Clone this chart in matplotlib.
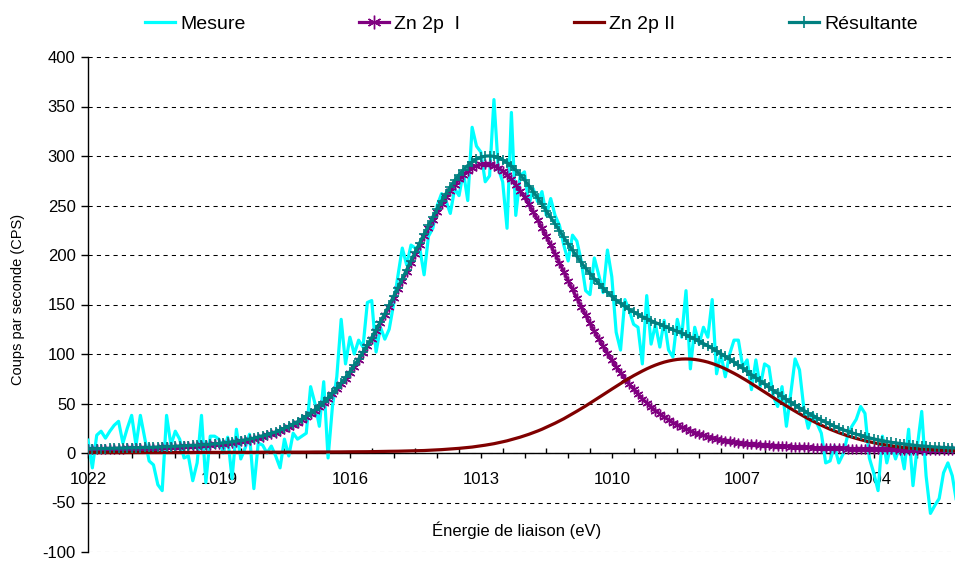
import matplotlib
matplotlib.use('Agg')
import matplotlib.pyplot as plt
from matplotlib.ticker import FixedLocator
import numpy as np

plt.rcParams['font.family'] = ['Liberation Sans', 'DejaVu Sans']
plt.rcParams['axes.unicode_minus'] = False

# energy axis, 0.1 eV steps from 1022 down to 1002
energie = np.round(np.linspace(1022, 1002, 201), 1)

mesure = [13, -15, 18, 22, 15, 22, 28, 32, 10, 25,
          38, 8, 38, 15, -8, -12, -32, -38, 38, 8,
          22, 14, -5, -3, -28, -10, 38, -30, 17, 17,
          14, 0, 16, -26, 24, -6, 5, 19, -36, 10,
          8, 0, 7, -3, -15, 14, -3, 20, 14, 17,
          20, 67, 50, 27, 72, -5, 47, 77, 135, 90,
          117, 100, 114, 107, 152, 154, 102, 127, 115, 125,
          150, 179, 207, 190, 210, 207, 207, 180, 219, 227,
          250, 262, 255, 242, 267, 260, 284, 255, 329, 310,
          304, 274, 280, 357, 287, 274, 227, 344, 240, 280,
          284, 250, 267, 254, 264, 240, 257, 240, 230, 210,
          194, 220, 214, 194, 164, 160, 197, 180, 162, 205,
          178, 122, 104, 155, 144, 130, 127, 90, 159, 110,
          130, 107, 134, 104, 97, 135, 117, 164, 85, 127,
          110, 127, 117, 155, 80, 100, 77, 100, 114, 114,
          87, 94, 64, 94, 67, 90, 87, 57, 47, 67,
          27, 60, 95, 84, 45, 25, 40, 30, 20, -10,
          -8, 7, -10, -1, 17, 27, 34, 47, 40, -5,
          -20, -38, 17, -10, 9, -6, 7, -16, 24, -33,
          7, 42, -23, -61, -53, -46, -20, -10, -23, -50,
          -30]

zn_i = [3.8, 3.9, 3.9, 4.0, 4.1, 4.2, 4.3, 4.4, 4.5, 4.6,
        4.7, 4.8, 4.9, 5.1, 5.2, 5.3, 5.5, 5.6, 5.8, 6.0,
        6.2, 6.4, 6.6, 6.8, 7.1, 7.3, 7.6, 7.9, 8.3, 8.6,
        9.1, 9.5, 10.0, 10.6, 11.2, 11.9, 12.6, 13.4, 14.3, 15.4,
        16.5, 17.7, 19.1, 20.6, 22.3, 24.2, 26.2, 28.4, 30.8, 33.5,
        36.4, 39.5, 42.9, 46.6, 50.6, 54.8, 59.4, 64.3, 69.5, 75.1,
        81.0, 87.2, 93.7, 100.6, 107.7, 115.2, 123.0, 131.0, 139.2, 147.7,
        156.4, 165.2, 174.1, 183.1, 192.1, 201.1, 210.0, 218.7, 227.3, 235.6,
        243.6, 251.2, 258.3, 264.9, 271.0, 276.3, 281.0, 284.9, 288.0, 290.2,
        291.5, 292.0, 291.5, 290.2, 288.0, 284.9, 281.0, 276.3, 271.0, 264.9,
        258.3, 251.2, 243.6, 235.6, 227.3, 218.7, 210.0, 201.1, 192.1, 183.1,
        174.1, 165.2, 156.4, 147.7, 139.2, 131.0, 123.0, 115.2, 107.7, 100.6,
        93.7, 87.2, 81.0, 75.1, 69.5, 64.3, 59.4, 54.8, 50.6, 46.6,
        42.9, 39.5, 36.4, 33.5, 30.8, 28.4, 26.2, 24.2, 22.3, 20.6,
        19.1, 17.7, 16.5, 15.4, 14.3, 13.4, 12.6, 11.9, 11.2, 10.6,
        10.0, 9.5, 9.1, 8.6, 8.3, 7.9, 7.6, 7.3, 7.1, 6.8,
        6.6, 6.4, 6.2, 6.0, 5.8, 5.6, 5.5, 5.3, 5.2, 5.1,
        4.9, 4.8, 4.7, 4.6, 4.5, 4.4, 4.3, 4.2, 4.1, 4.0,
        3.9, 3.9, 3.8, 3.7, 3.6, 3.6, 3.5, 3.4, 3.4, 3.3,
        3.2, 3.2, 3.1, 3.0, 3.0, 2.9, 2.9, 2.8, 2.8, 2.7,
        2.7]

zn_ii = [0.4, 0.4, 0.4, 0.4, 0.4, 0.4, 0.4, 0.4, 0.4, 0.5,
         0.5, 0.5, 0.5, 0.5, 0.5, 0.5, 0.5, 0.5, 0.5, 0.5,
         0.5, 0.5, 0.5, 0.6, 0.6, 0.6, 0.6, 0.6, 0.6, 0.6,
         0.6, 0.6, 0.7, 0.7, 0.7, 0.7, 0.7, 0.7, 0.7, 0.8,
         0.8, 0.8, 0.8, 0.8, 0.8, 0.8, 0.9, 0.9, 0.9, 0.9,
         0.9, 1.0, 1.0, 1.0, 1.0, 1.0, 1.1, 1.1, 1.1, 1.2,
         1.2, 1.2, 1.3, 1.3, 1.3, 1.4, 1.4, 1.5, 1.6, 1.7,
         1.7, 1.8, 1.9, 2.0, 2.1, 2.2, 2.4, 2.5, 2.7, 2.9,
         3.1, 3.4, 3.7, 4.0, 4.3, 4.7, 5.1, 5.5, 6.0, 6.6,
         7.2, 7.9, 8.6, 9.4, 10.3, 11.3, 12.3, 13.5, 14.7, 16.0,
         17.4, 18.9, 20.5, 22.2, 24.0, 26.0, 28.0, 30.1, 32.3, 34.6,
         37.1, 39.6, 42.2, 44.8, 47.5, 50.3, 53.1, 55.9, 58.8, 61.7,
         64.5, 67.3, 70.1, 72.9, 75.5, 78.1, 80.5, 82.8, 85.0, 87.0,
         88.8, 90.4, 91.8, 92.9, 93.8, 94.5, 94.9, 95.0, 94.9, 94.5,
         93.8, 92.9, 91.8, 90.4, 88.8, 87.0, 85.0, 82.8, 80.5, 78.1,
         75.5, 72.9, 70.1, 67.3, 64.5, 61.7, 58.8, 55.9, 53.1, 50.3,
         47.5, 44.8, 42.2, 39.6, 37.1, 34.6, 32.3, 30.1, 28.0, 26.0,
         24.0, 22.2, 20.5, 18.9, 17.4, 16.0, 14.7, 13.5, 12.3, 11.3,
         10.3, 9.4, 8.6, 7.9, 7.2, 6.6, 6.0, 5.5, 5.1, 4.7,
         4.3, 4.0, 3.7, 3.4, 3.1, 2.9, 2.7, 2.5, 2.4, 2.2,
         2.1]

resultante = [4.2, 4.3, 4.3, 4.4, 4.5, 4.6, 4.7, 4.8, 4.9, 5.1,
              5.2, 5.3, 5.4, 5.6, 5.7, 5.8, 6.0, 6.1, 6.3, 6.5,
              6.7, 6.9, 7.1, 7.4, 7.7, 7.9, 8.2, 8.5, 8.9, 9.2,
              9.7, 10.1, 10.7, 11.3, 11.9, 12.6, 13.3, 14.1, 15.0, 16.2,
              17.3, 18.5, 19.9, 21.4, 23.1, 25.0, 27.1, 29.3, 31.7, 34.4,
              37.3, 40.5, 43.9, 47.6, 51.6, 55.8, 60.5, 65.4, 70.6, 76.3,
              82.2, 88.4, 95.0, 101.9, 109.0, 116.6, 124.4, 132.5, 140.8, 149.4,
              158.1, 167.0, 176.0, 185.1, 194.2, 203.3, 212.4, 221.2, 230.0, 238.5,
              246.7, 254.6, 262.0, 268.9, 275.3, 281.0, 286.1, 290.4, 294.0, 296.8,
              298.7, 299.9, 300.1, 299.6, 298.3, 296.2, 293.3, 289.8, 285.7, 280.9,
              275.7, 270.1, 264.1, 257.8, 251.3, 244.7, 238.0, 231.2, 224.4, 217.7,
              211.2, 204.8, 198.6, 192.5, 186.7, 181.3, 176.1, 171.1, 166.5, 162.3,
              158.2, 154.5, 151.1, 148.0, 145.0, 142.4, 139.9, 137.6, 135.6, 133.6,
              131.7, 129.9, 128.2, 126.4, 124.6, 122.9, 121.1, 119.2, 117.2, 115.1,
              112.9, 110.6, 108.3, 105.8, 103.1, 100.4, 97.6, 94.7, 91.7, 88.7,
              85.5, 82.4, 79.2, 75.9, 72.8, 69.6, 66.4, 63.2, 60.2, 57.1,
              54.1, 51.2, 48.4, 45.6, 42.9, 40.2, 37.8, 35.4, 33.2, 31.1,
              28.9, 27.0, 25.2, 23.5, 21.9, 20.4, 19.0, 17.7, 16.4, 15.3,
              14.2, 13.3, 12.4, 11.6, 10.8, 10.2, 9.5, 8.9, 8.5, 8.0,
              7.5, 7.2, 6.8, 6.4, 6.1, 5.8, 5.6, 5.3, 5.2, 4.9,
              4.8]

# tick positions / labels on the energy axis
major_ticks = list(range(1022, 1002, -1))
minor_ticks = [t - 0.5 for t in major_ticks]
labelled = [1022, 1019, 1016, 1013, 1010, 1007, 1004]
y_ticks = list(range(-100, 401, 50))

fig = plt.figure(figsize=(9.55, 5.62), dpi=100)
ax = fig.add_axes([88 / 955, 10 / 562, 867 / 955, 495 / 562])

ax.plot(energie, mesure, color='#00FFFF', lw=2.3, label='Mesure', zorder=3)
ax.plot(energie, zn_i, color='#800080', lw=2.3, marker=(6, 2, 0), ms=7,
        mew=1, label='Zn 2p  I', zorder=4)
ax.plot(energie, zn_ii, color='#800000', lw=2.3, label='Zn 2p II', zorder=5)
ax.plot(energie, resultante, color='#008080', lw=2.3, marker='+', ms=6.5,
        mew=1.2, label='Résultante', zorder=6)

ax.set_xlim(1022, 1022 - 867 / 43.65)
ax.set_ylim(-100, 400)

ax.spines['top'].set_visible(False)
ax.spines['right'].set_visible(False)
ax.spines['bottom'].set_position(('data', 0))
ax.spines['bottom'].set_linewidth(1)
ax.spines['left'].set_linewidth(1)

ax.xaxis.set_major_locator(FixedLocator(major_ticks))
ax.xaxis.set_minor_locator(FixedLocator(minor_ticks))
ax.set_xticklabels([str(t) if t in labelled else '' for t in major_ticks])
ax.tick_params(axis='x', which='major', direction='out', length=3.8, width=1,
               labelsize=12, pad=10)
ax.tick_params(axis='x', which='minor', direction='in', length=3.8, width=1)

ax.set_yticks(y_ticks)
ax.tick_params(axis='y', direction='out', length=5, width=1, labelsize=12, pad=4)
ax.yaxis.grid(True, color='black', linestyle=(0, (4, 4)), linewidth=0.75)
ax.set_axisbelow(True)

ax.set_xlabel('Énergie de liaison (eV)', fontsize=12, va='center')
ax.xaxis.set_label_coords(429 / 867, 22 / 495)
ax.set_ylabel('Coups par seconde (CPS)', fontsize=10.5, va='center')
ax.yaxis.set_label_coords(-70 / 867, 0.51)

fig.legend(loc='center left', bbox_to_anchor=(145 / 955, 1 - 24 / 562), ncol=4,
           frameon=False, fontsize=14, handlelength=1.55, handletextpad=0.25,
           columnspacing=5.86, borderpad=0, borderaxespad=0, markerscale=1.4)

fig.savefig('out.png', dpi=100)
